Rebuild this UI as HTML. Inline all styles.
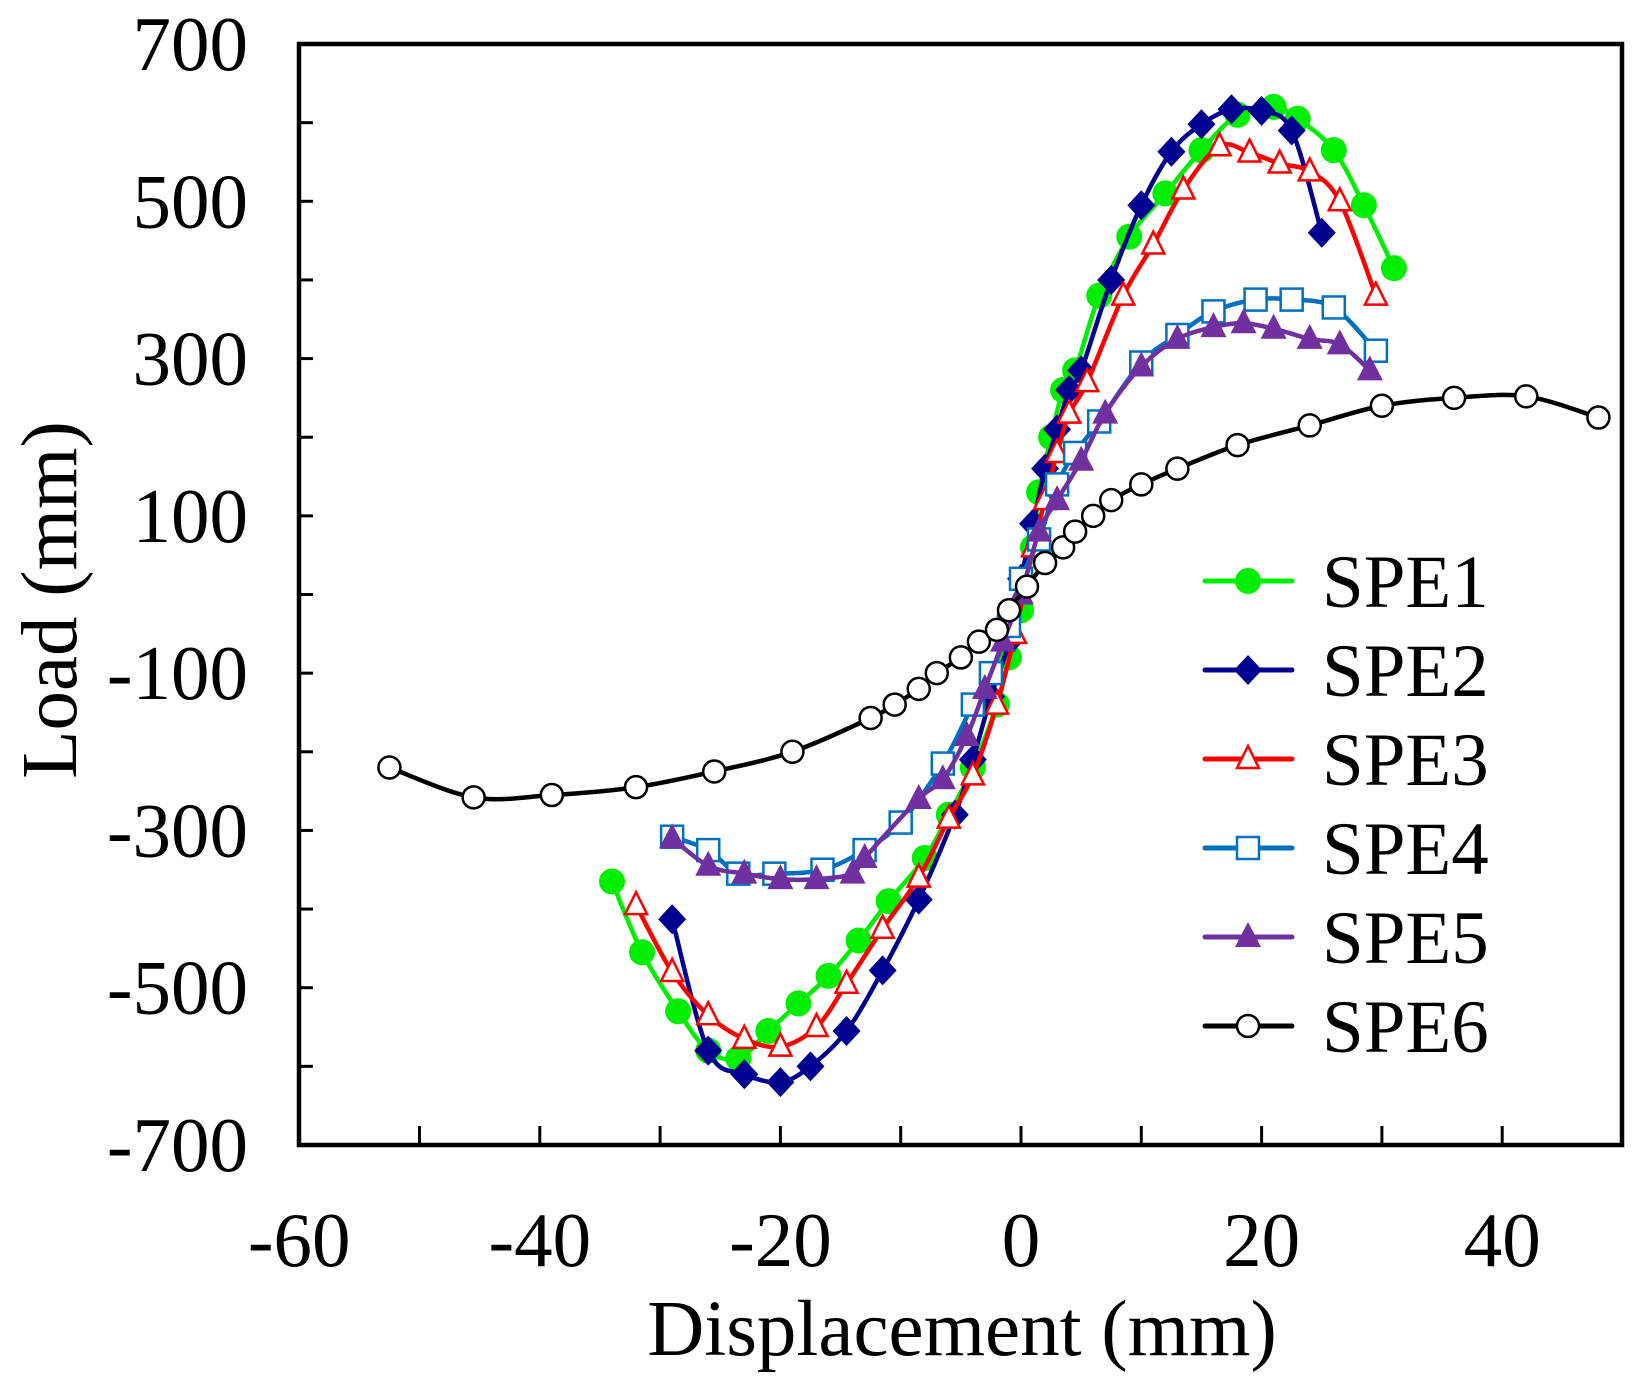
<!DOCTYPE html>
<html><head><meta charset="utf-8"><style>
html,body{margin:0;padding:0;background:#fff;}
svg{display:block;}
text{font-family:"Liberation Serif",serif;fill:#000;}
</style></head><body>
<svg id="s" width="1644" height="1378" viewBox="0 0 1644 1378" xmlns="http://www.w3.org/2000/svg"></svg>
<script>
const S=document.getElementById('s');
const X=d=>1021+12.03*d, Y=v=>594.5-0.7864*v;
let h='';
h+='<rect x="299" y="44" width="1323" height="1101" fill="none" stroke="#000" stroke-width="4.5"/>';
for(let v=-600;v<=600;v+=100){h+=`<line x1="299" y1="${Y(v)}" x2="313" y2="${Y(v)}" stroke="#000" stroke-width="3"/>`;}
for(let d=-50;d<=40;d+=10){h+=`<line x1="${X(d)}" y1="1145" x2="${X(d)}" y2="1126" stroke="#000" stroke-width="3"/>`;}
for(let v=-700;v<=700;v+=200){h+=`<text x="248" y="${Y(v)+26}" font-size="77" text-anchor="end">${v}</text>`;}
for(let d=-60;d<=40;d+=20){h+=`<text x="${X(d)}" y="1266" font-size="77" text-anchor="middle">${d}</text>`;}
h+='<text x="962" y="1355" font-size="79" text-anchor="middle">Displacement (mm)</text>';
h+='<text transform="translate(76,600) rotate(-90)" font-size="79" text-anchor="middle">Load (mm)</text>';
function path(pts){
 let p=pts.map(q=>[X(q[0]),Y(q[1])]);
 let s=`M${p[0][0]},${p[0][1]}`;
 for(let i=0;i<p.length-1;i++){
  const p0=p[i-1]||p[i],p1=p[i],p2=p[i+1],p3=p[i+2]||p2;
  const c1=[p1[0]+(p2[0]-p0[0])/6,p1[1]+(p2[1]-p0[1])/6];
  const c2=[p2[0]-(p3[0]-p1[0])/6,p2[1]-(p3[1]-p1[1])/6];
  s+=`C${c1[0]},${c1[1]} ${c2[0]},${c2[1]} ${p2[0]},${p2[1]}`;
 }
 return s;
}
function mk(t,x,y,c){
 if(t==='fc')return `<circle cx="${x}" cy="${y}" r="13" fill="${c}"/>`;
 if(t==='oc')return `<circle cx="${x}" cy="${y}" r="11" fill="#fff" stroke="${c}" stroke-width="2.5"/>`;
 if(t==='d')return `<polygon points="${x},${y-15} ${x+14},${y} ${x},${y+15} ${x-14},${y}" fill="${c}"/>`;
 if(t==='ot')return `<polygon points="${x},${y-13} ${x+11},${y+9} ${x-11},${y+9}" fill="#fff" stroke="${c}" stroke-width="2.5"/>`;
 if(t==='ft')return `<polygon points="${x},${y-15} ${x+13},${y+10} ${x-13},${y+10}" fill="${c}"/>`;
 if(t==='os')return `<rect x="${x-11}" y="${y-11}" width="22" height="22" fill="#fff" stroke="${c}" stroke-width="2.5"/>`;
}
const series=[
['SPE1','#00ee00','fc',[[-34,-365],[-31.5,-455],[-28.5,-530],[-26,-580],[-23.5,-590],[-21,-555],[-18.5,-520],[-16,-485],[-13.5,-440],[-11,-390],[-8,-335],[-6,-280],[-4,-220],[-2,-140],[-1,-80],[0,-20],[1,60],[1.5,130],[2.5,200],[3.5,260],[4.5,285],[6.5,380],[9,455],[12,510],[15,565],[18,610],[21,620],[23,605],[26,565],[28.5,495],[31,415]]],
['SPE2','#000090','d',[[-29,-413],[-26,-580],[-23,-610],[-20,-620],[-17.5,-600],[-14.5,-555],[-11.5,-478],[-8.5,-388],[-5.5,-280],[-4,-210],[-2.5,-130],[-1,-60],[0,20],[1,90],[2,160],[3,210],[4,260],[5,285],[7.5,400],[10,495],[12.5,563],[15,598],[17.5,617],[20,615],[22.5,590],[25,460]]],
['SPE3','#ff0000','ot',[[-32,-395],[-29,-480],[-26,-535],[-23,-565],[-20,-575],[-17,-550],[-14.5,-495],[-11.5,-425],[-8.5,-360],[-6,-285],[-4,-230],[-2,-140],[-0.5,-50],[1,60],[2,120],[3,180],[4,230],[5.5,270],[8.5,380],[11,445],[13.5,515],[16.5,570],[19,562],[21.5,548],[24,538],[26.5,500],[29.5,380]]],
['SPE4','#0070c0','os',[[-29,-308],[-26,-325],[-23.5,-355],[-20.5,-355],[-16.5,-350],[-13,-325],[-10,-290],[-6.5,-215],[-4,-140],[-2.5,-100],[-1,-40],[0,20],[1.5,70],[3,140],[4.5,180],[6.5,220],[10,295],[13,330],[16,360],[19.5,375],[22.5,375],[26,365],[29.5,310]]],
['SPE5','#7030a0','ft',[[-29,-310],[-26,-345],[-23,-355],[-20,-362],[-17,-362],[-14,-355],[-13,-335],[-8.5,-260],[-6.5,-235],[-4.5,-180],[-3,-120],[-1.5,-60],[0,0],[1.5,80],[3,120],[5,170],[7,230],[10,290],[13,325],[16,340],[18.5,345],[21,338],[24,325],[26.5,318],[29,285]]],
['SPE6','#000000','oc',[[-52.5,-220],[-45.5,-258],[-39,-255],[-32,-245],[-25.5,-225],[-19,-200],[-12.5,-157],[-10.5,-140],[-8.5,-120],[-7,-100],[-5,-80],[-3.5,-60],[-2,-45],[-1,-20],[0.5,10],[2,40],[3.5,60],[4.5,80],[6,100],[7.5,120],[10,140],[13,160],[18,190],[24,215],[30,240],[36,250],[42,252],[48,225]]]
];
series.forEach((s,i)=>{
 h+=`<path d="${path(s[3])}" fill="none" stroke="${s[1]}" stroke-width="4.5"/>`;
 s[3].forEach(q=>h+=mk(s[2],X(q[0]),Y(q[1]),s[1]));
 const ly=581+89*i;
 h+=`<line x1="1205" y1="${ly}" x2="1292" y2="${ly}" stroke="${s[1]}" stroke-width="5" stroke-linecap="round"/>`;
 h+=mk(s[2],1248,ly,s[1]);
 h+=`<text x="1322" y="${ly+26}" font-size="75">${s[0]}</text>`;
});
S.innerHTML=h;
</script>
</body></html>
